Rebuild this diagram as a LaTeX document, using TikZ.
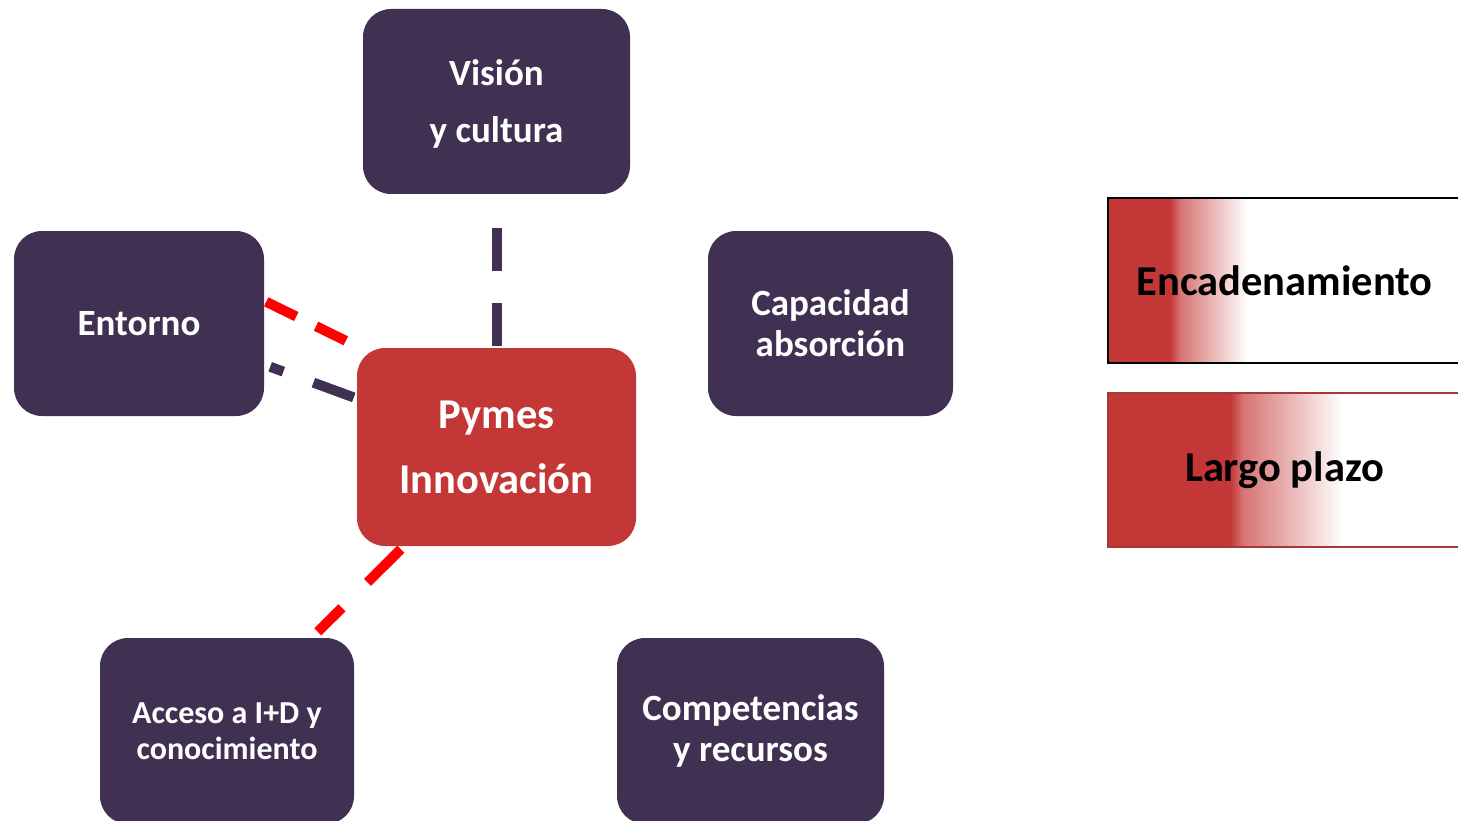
\documentclass[tikz,border=0pt]{standalone}
\usepackage{fontspec}
\setmainfont{Carlito}
\usetikzlibrary{calc}
\definecolor{boxpurple}{HTML}{403152}
\definecolor{boxred}{HTML}{C43737}
\definecolor{linered}{HTML}{FF0000}
\definecolor{fadered}{HTML}{D77474}
\definecolor{legborder}{HTML}{A53838}
\pgfdeclarehorizontalshading{encgrad}{100bp}{color(0bp)=(boxred); color(33.8bp)=(boxred); color(35.2bp)=(fadered); color(44.8bp)=(white); color(100bp)=(white)}
\pgfdeclarehorizontalshading{largograd}{100bp}{color(0bp)=(boxred); color(42.3bp)=(boxred); color(44.1bp)=(fadered); color(58.3bp)=(white); color(100bp)=(white)}
\begin{document}
\begin{tikzpicture}[x=1pt,y=-1pt,
  pbox/.style={rectangle, rounded corners=28pt, fill=boxpurple, text=white, align=center, inner sep=0pt},
  redbox/.style={rectangle, rounded corners=28pt, fill=boxred, text=white, align=center, inner sep=0pt},
  legbox/.style={rectangle, text=black, align=center, inner sep=0pt, minimum width=353pt, font=\bfseries\fontsize{42.5pt}{50pt}\selectfont},
  dashline/.style={line width=10pt}]
\useasboundingbox (0,0) rectangle (1458,821);
\clip (0,0) rectangle (1458,821);
% boxes
\node[pbox, minimum width=267pt, minimum height=185pt, font=\bfseries\fontsize{37pt}{57pt}\selectfont, text depth=0pt] (vis) at (496.5,101.5) {Visión\\y cultura};
\node[pbox, minimum width=250pt, minimum height=185pt, font=\bfseries\fontsize{37pt}{41pt}\selectfont] (ent) at (139,323.5) {Entorno};
\node[pbox, minimum width=245pt, minimum height=185pt, font=\bfseries\fontsize{37pt}{41pt}\selectfont] (cap) at (830.5,323.5) {Capacidad\\absorción};
\node[redbox, minimum width=279pt, minimum height=198pt, font=\bfseries\fontsize{42.5pt}{65pt}\selectfont] (pym) at (496.5,447) {Pymes\\Innovación};
\node[pbox, minimum width=254pt, minimum height=186pt, font=\bfseries\fontsize{32pt}{36pt}\selectfont] (acc) at (227,731) {Acceso a I+D y\\conocimiento};
\node[pbox, minimum width=267pt, minimum height=186pt, font=\bfseries\fontsize{37pt}{41pt}\selectfont] (com) at (750.5,731) {Competencias\\y recursos};
% connectors
\draw[dashline, boxpurple, dash pattern=on 43pt off 32pt, shorten <=34pt, shorten >=2pt] (vis.south) -- (pym.north);
\draw[dashline, linered, dash pattern=on 33.5pt off 22pt] ([shift={(2,71)}]ent.north east) -- ([shift={(-11,-7)}]pym.north west);
\draw[dashline, boxpurple, dash pattern=on 43pt off 32pt, dash phase=29pt] ([shift={(6,136)}]ent.north east) -- ([shift={(-2,50)}]pym.north west);
\draw[dashline, linered, dash pattern=on 47pt off 36pt] ([shift={(44,3)}]pym.south west) -- ([shift={(218,-6)}]acc.north west);
% legend
\node[legbox, draw=black, line width=2pt, shading=encgrad, minimum height=165pt] (enc) at (1284.5,280.5) {Encadenamiento};
\node[legbox, draw=legborder, line width=1.5pt, shading=largograd, minimum height=154pt] (lar) at (1284.5,470) {Largo plazo};
\end{tikzpicture}
\end{document}
